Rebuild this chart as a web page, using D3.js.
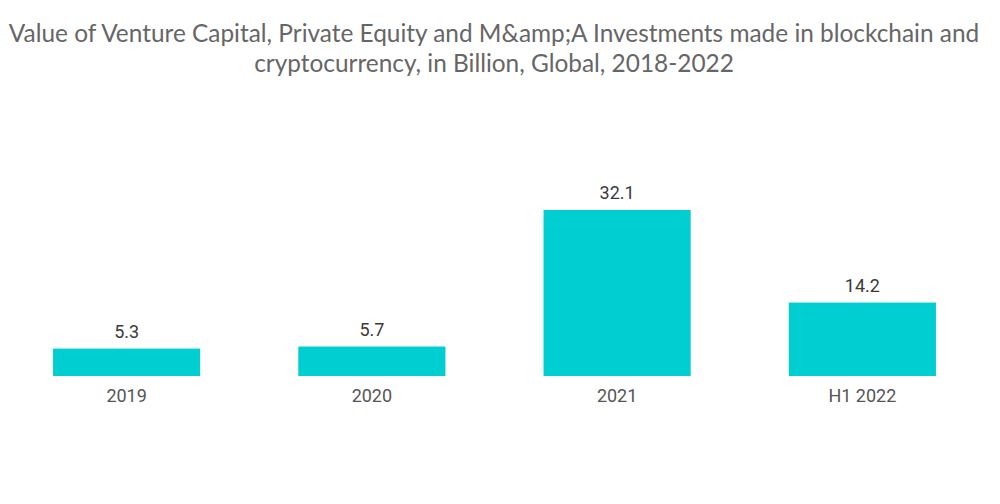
<!DOCTYPE html>
<html>
<head>
<meta charset="utf-8">
<script src="https://cdn.jsdelivr.net/npm/d3@7"></script>
<style>
  body { margin: 0; background: #fff; }
  svg { display: block; }
</style>
</head>
<body>
<div id="chart"></div>
<script>
var categories = ['2019', '2020', '2021', 'H1 2022'];
var values = [5.3, 5.7, 32.1, 14.2];
var titleLines = [
  'Value of Venture Capital, Private Equity and M&amp;A Investments made in blockchain and',
  'cryptocurrency, in Billion, Global, 2018-2022'
];

var width = 1000, height = 504;

var svg = d3.select('#chart')
  .append('svg')
  .attr('width', width)
  .attr('height', height);

// titulo
svg.append('g')
  .selectAll('text')
  .data(titleLines)
  .enter()
  .append('text')
    .attr('x', 494)
    .attr('y', function(d, i) { return 42 + i * 30; })
    .attr('text-anchor', 'middle')
    .attr('font-family', 'Lato, sans-serif')
    .attr('font-size', 24.4)
    .attr('fill', '#666')
    .text(function(d) { return d; });

var x = d3.scaleBand()
  .domain(categories)
  .range([4, 985])
  .paddingInner(0.4)
  .paddingOuter(0.2);

var y = d3.scaleLinear()
  .domain([0, 35])
  .range([376, 195]);

var bars = svg.append('g')
  .selectAll('g.bar')
  .data(categories)
  .enter()
  .append('g')
  .attr('class', 'bar');

bars.append('rect')
  .attr('x', function(d) { return x(d); })
  .attr('width', x.bandwidth())
  .attr('y', function(d, i) { return y(values[i]); })
  .attr('height', function(d, i) { return y(0) - y(values[i]); })
  .attr('fill', '#00CED1');

bars.append('text')
  .attr('x', function(d) { return x(d) + x.bandwidth() / 2; })
  .attr('y', function(d, i) { return y(values[i]) - 11; })
  .attr('text-anchor', 'middle')
  .attr('font-family', 'Roboto, sans-serif')
  .attr('font-size', 18)
  .attr('fill', '#3a3a3a')
  .text(function(d, i) { return values[i]; });

// eje x sin linea
var xAxis = svg.append('g')
  .attr('transform', 'translate(0,' + y(0) + ')')
  .call(d3.axisBottom(x).tickSize(0).tickPadding(13));
xAxis.select('.domain').remove();
xAxis.selectAll('text')
  .attr('font-family', 'Roboto, sans-serif')
  .attr('font-size', 18)
  .attr('fill', '#555');
</script>
</body>
</html>
